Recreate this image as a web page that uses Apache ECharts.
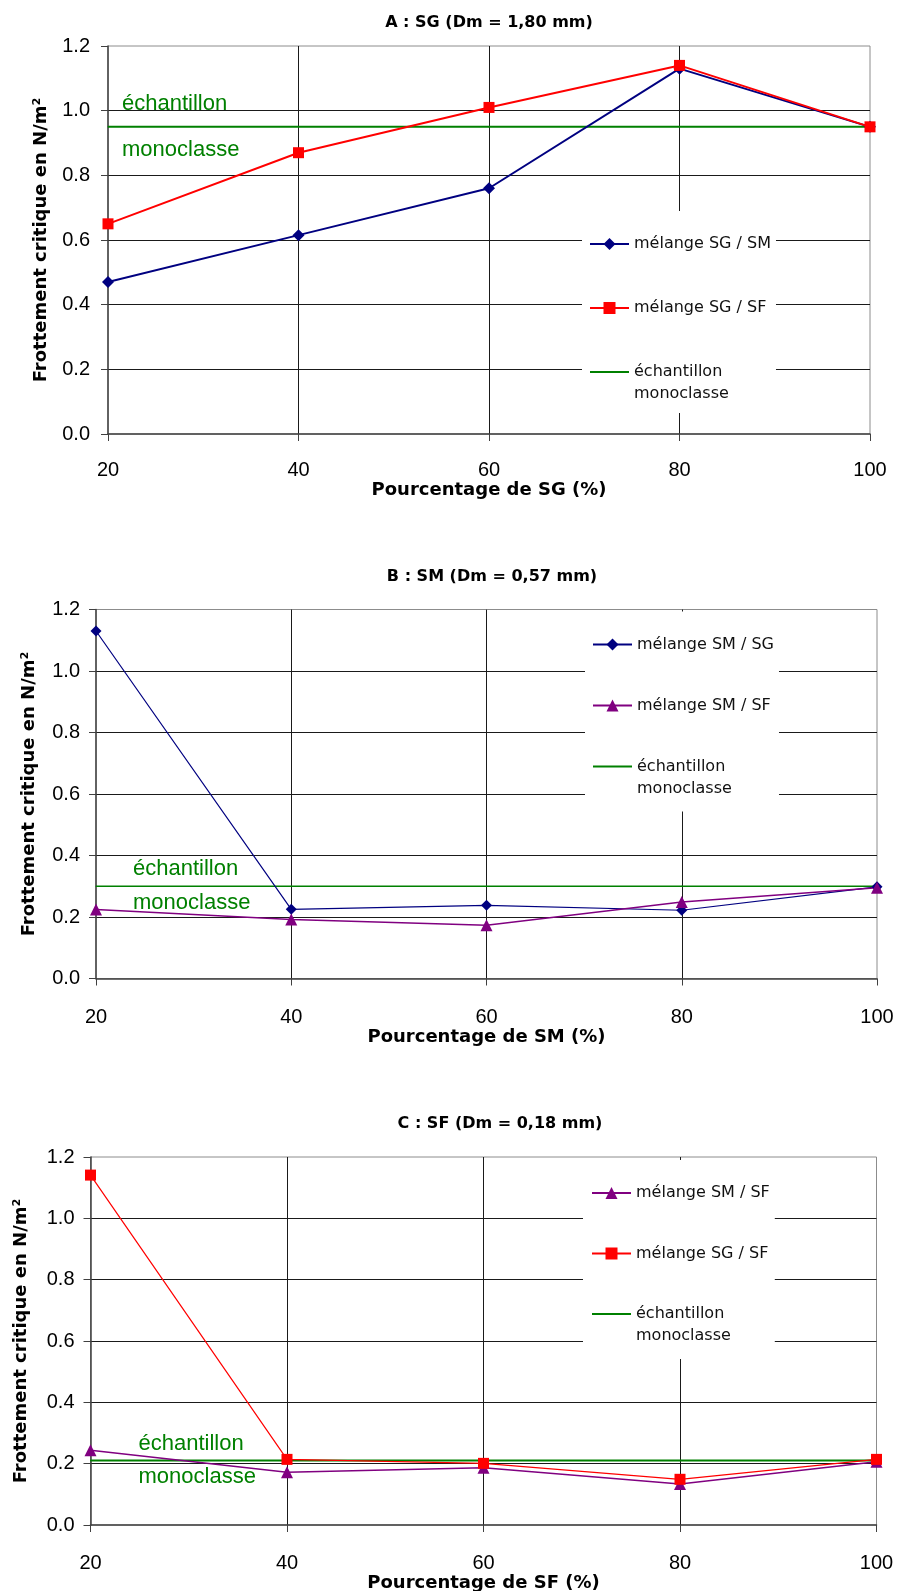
<!DOCTYPE html>
<html>
<head>
<meta charset="utf-8">
<title>Frottement critique</title>
<script src="https://cdn.jsdelivr.net/npm/echarts@6/dist/echarts.min.js"></script>
<style>
    html, body { margin: 0; padding: 0; background: #fff; }
    #chart { width: 897px; height: 1591px; }
</style>
</head>
<body>
<div id="chart"></div>
<script>
// abscisses communes aux trois graphes (%)
const pourcentages = [20, 40, 60, 80, 100];

// A : SG (Dm = 1,80 mm)
const aSgSm = [0.47, 0.615, 0.76, 1.13, 0.95];
const aSgSf = [0.65, 0.87, 1.01, 1.14, 0.95];
const aMono = [0.95, 0.95, 0.95, 0.95, 0.95];

// B : SM (Dm = 0,57 mm)
const bSmSg = [1.13, 0.225, 0.238, 0.222, 0.298];
const bSmSf = [0.224, 0.192, 0.173, 0.249, 0.295];
const bMono = [0.3, 0.3, 0.3, 0.3, 0.3];

// C : SF (Dm = 0,18 mm)
const cSmSf = [0.244, 0.172, 0.187, 0.134, 0.206];
const cSgSf = [1.141, 0.214, 0.201, 0.149, 0.214];
const cMono = [0.21, 0.21, 0.21, 0.21, 0.21];

const MONO = 'échantillon monoclasse';
const Y_NAME = 'Frottement critique en N/m²';
const GREEN = '#008000';
const NAVY = '#000080';
const RED = '#ff0000';
const PURPLE = '#800080';

function pairs(vals) {
    return pourcentages.map((x, i) => [x, vals[i]]);
}

function mixSeries(name, vals, idx, color, symbol, size, width) {
    return {
        type: 'line', name: name, xAxisIndex: idx, yAxisIndex: idx,
        data: pairs(vals), symbol: symbol, symbolSize: size,
        lineStyle: { color: color, width: width },
        itemStyle: { color: color }, z: 3
    };
}

function monoSeries(vals, idx, width, dist, lh) {
    return {
        type: 'line', name: MONO, xAxisIndex: idx, yAxisIndex: idx,
        data: pairs(vals), symbol: 'line', symbolSize: 1,
        lineStyle: { color: GREEN, width: width },
        itemStyle: { color: GREEN }, z: 2,
        label: {
            show: true, position: 'right', distance: dist,
            formatter: p => p.dataIndex === 0 ? 'échantillon\nmonoclasse' : '',
            color: GREEN, fontFamily: 'Liberation Sans', fontSize: 22, lineHeight: lh
        }
    };
}

function xAx(idx, name, margin, nameGap) {
    return {
        type: 'value', gridIndex: idx, min: 20, max: 100, interval: 20,
        name: name, nameLocation: 'middle', nameGap: nameGap,
        nameTextStyle: { fontFamily: 'DejaVu Sans', fontWeight: 'bold', fontSize: 18, color: '#000' },
        axisLine: { show: true, lineStyle: { color: '#404040', width: 1.5 } },
        axisTick: { show: true, length: 7, lineStyle: { color: '#404040' } },
        axisLabel: { margin: margin, fontFamily: 'Liberation Sans', fontSize: 20, color: '#000' },
        splitLine: { show: true, showMinLine: false, showMaxLine: false, lineStyle: { color: '#1a1a1a', width: 1 } }
    };
}

function yAx(idx, margin, nameGap) {
    return {
        type: 'value', gridIndex: idx, min: 0, max: 1.2, interval: 0.2,
        name: Y_NAME, nameLocation: 'middle', nameGap: nameGap,
        nameTextStyle: { fontFamily: 'DejaVu Sans', fontWeight: 'bold', fontSize: 18, color: '#000' },
        axisLine: { show: true, lineStyle: { color: '#404040', width: 1.5 } },
        axisTick: { show: true, length: 7, lineStyle: { color: '#404040' } },
        axisLabel: { margin: margin, formatter: v => v.toFixed(1), fontFamily: 'Liberation Sans', fontSize: 20, color: '#000' },
        splitLine: { show: true, showMinLine: false, showMaxLine: false, lineStyle: { color: '#1a1a1a', width: 1 } }
    };
}

function legendBox(names, left, top, gap, pad) {
    return {
        data: names, orient: 'vertical', left: left, top: top,
        itemGap: gap, itemWidth: 39, itemHeight: 15, padding: pad,
        backgroundColor: '#fff', selectedMode: false,
        formatter: n => n === MONO ? '\néchantillon\nmonoclasse' : '\n' + n + '\n',
        textStyle: { fontFamily: 'DejaVu Sans', fontSize: 16, color: '#111', lineHeight: 22 }
    };
}

function titleAt(text, x, top) {
    return {
        text: text, left: x, top: top, textAlign: 'center',
        textStyle: { fontFamily: 'DejaVu Sans', fontWeight: 'bold', fontSize: 16, color: '#000' }
    };
}

const gridStyle = { show: true, borderColor: '#8c8c8c', borderWidth: 1, backgroundColor: '#fff', containLabel: false, outerBoundsMode: 'none' };

const option = {
    animation: false,
    backgroundColor: '#fff',
    title: [
        titleAt('A : SG (Dm = 1,80 mm)', 484, 10),
        titleAt('B : SM (Dm = 0,57 mm)', 487, 564),
        titleAt('C : SF (Dm = 0,18 mm)', 495, 1111)
    ],
    grid: [
        Object.assign({ left: 108, top: 46, width: 762, height: 388 }, gridStyle),
        Object.assign({ left: 96, top: 609.5, width: 781, height: 369 }, gridStyle),
        Object.assign({ left: 90.5, top: 1157, width: 786, height: 368 }, gridStyle)
    ],
    legend: [
        legendBox(['mélange SG / SM', 'mélange SG / SF', MONO], 582, 211, -2, [0, 5, 8, 7]),
        legendBox(['mélange SM / SG', 'mélange SM / SF', MONO], 585, 611.5, -5, [0, 5, 12, 7]),
        legendBox(['mélange SM / SF', 'mélange SG / SF', MONO], 583, 1160, -5.5, [0, 5, 12, 8])
    ],
    xAxis: [
        xAx(0, 'Pourcentage de SG (%)', 26, 46),
        xAx(1, 'Pourcentage de SM (%)', 29, 44),
        xAx(2, 'Pourcentage de SF (%)', 28, 43)
    ],
    yAxis: [
        yAx(0, 18, 58),
        yAx(1, 16, 58),
        yAx(2, 16, 60)
    ],
    series: [
        monoSeries(aMono, 0, 2, 13, 46),
        mixSeries('mélange SG / SM', aSgSm, 0, NAVY, 'diamond', 12, 2),
        mixSeries('mélange SG / SF', aSgSf, 0, RED, 'rect', 11, 2),

        monoSeries(bMono, 1, 1.5, 36, 34),
        mixSeries('mélange SM / SG', bSmSg, 1, NAVY, 'diamond', 11, 1.2),
        mixSeries('mélange SM / SF', bSmSf, 1, PURPLE, 'triangle', 12, 1.5),

        monoSeries(cMono, 2, 2, 47, 33),
        mixSeries('mélange SM / SF', cSmSf, 2, PURPLE, 'triangle', 12, 1.5),
        mixSeries('mélange SG / SF', cSgSf, 2, RED, 'rect', 11, 1.2)
    ]
};

const chart = echarts.init(document.getElementById('chart'));
chart.setOption(option);
</script>
</body>
</html>
